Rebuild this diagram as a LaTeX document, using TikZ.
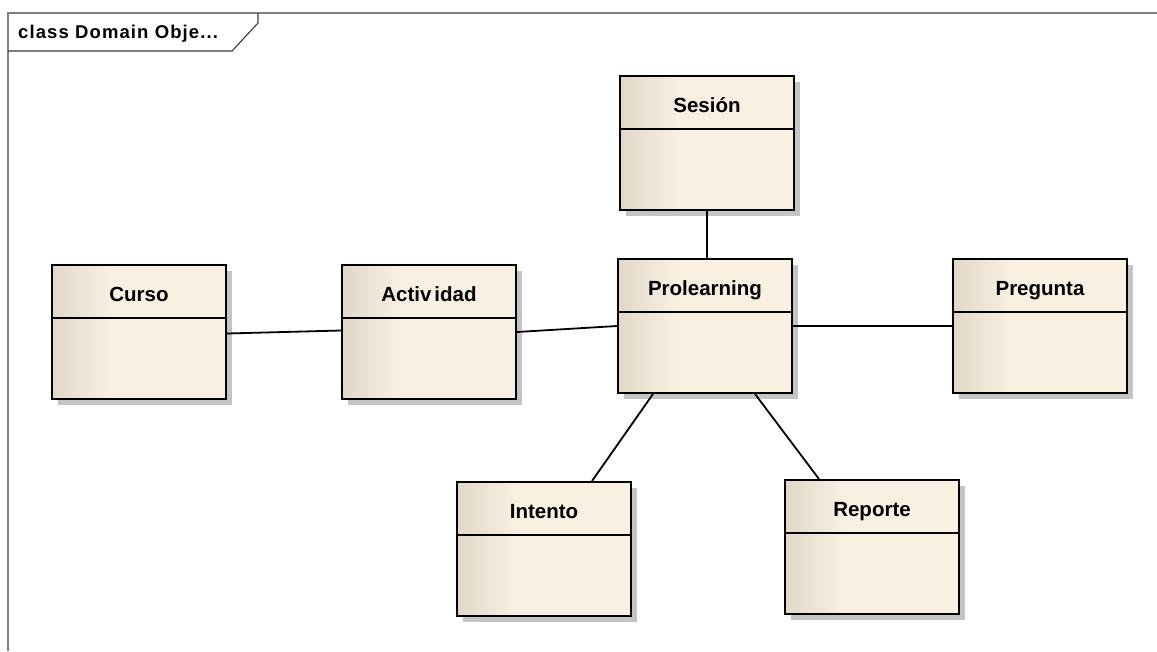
\documentclass[tikz,border=0pt]{standalone}
\usepackage{fontspec}
\setmainfont{Liberation Sans}
\usetikzlibrary{shadows}

\definecolor{clsdark}{HTML}{E2D8C8}
\definecolor{clslight}{HTML}{FAF0E2}
\definecolor{shgray}{HTML}{C4C4C4}
\definecolor{framegray}{HTML}{808080}
\definecolor{tabgray}{HTML}{3A3A3A}

% class boxes: darker strip on the left fading into the cream body
\pgfdeclarehorizontalshading{clsshade}{100bp}{color(0bp)=(clsdark); color(25bp)=(clsdark); color(42bp)=(clslight); color(100bp)=(clslight)}

\tikzset{
  frameline/.style={draw=framegray, line width=1.6pt},
  tabline/.style={draw=tabgray, line width=1.1pt},
  cls/.style={
    anchor=north west, draw=black, line width=2pt,
    shading=clsshade,
    drop shadow={shadow xshift=6pt, shadow yshift=-6pt, fill=shgray, opacity=1},
    minimum width=174pt, inner sep=0pt,
    text height=36pt, text depth=98pt,
    font=\fontsize{20.5}{23}\selectfont\bfseries,
    path picture={
      \draw[black, line width=1.5pt]
        ([yshift=-53pt]path picture bounding box.north west) --
        ([yshift=-53pt]path picture bounding box.north east);
    }
  },
  assoc/.style={draw=black, line width=1.8pt}
}

\begin{document}
\begin{tikzpicture}[x=1pt, y=-1pt]
\useasboundingbox[fill=white] (0,0) rectangle (1157,651);

% diagram frame and its name tab
\draw[frameline] (8,651) -- (8,13) -- (1157,13);
\draw[tabline] (8,51) -- (232,51) -- (258,23) -- (258,13);
\node[anchor=base west, inner sep=0pt,
      font=\fontsize{18.5}{21}\selectfont\bfseries\addfontfeatures{LetterSpace=6}]
  (frametitle) at (18,38) {class Domain Obje...};

% classes
\node[cls] (ses) at (619,75)  {Sesión};
\node[cls] (cur) at (51,264)  {Curso};
\node[cls] (act) at (341,264) {Activ\kern3pt idad};
\node[cls] (pro) at (617,258) {Prolearning};
\node[cls] (pre) at (952,258) {Pregunta};
\node[cls] (int) at (456,481) {Intento};
\node[cls] (rep) at (784,479) {Reporte};

% associations
\draw[assoc] (ses.south) -- (ses.south |- pro.north);
\draw[assoc] ([yshift=-1.5pt]cur.east) -- ([yshift=1.5pt]act.west);
\draw[assoc] (act.east) -- (pro.west);
\draw[assoc] (pro.east) -- (pre.west);
\draw[assoc] ([xshift=36pt]pro.south west) -- ([xshift=136pt]int.north west);
\draw[assoc] ([xshift=138pt]pro.south west) -- ([xshift=35pt]rep.north west);
\end{tikzpicture}
\end{document}
